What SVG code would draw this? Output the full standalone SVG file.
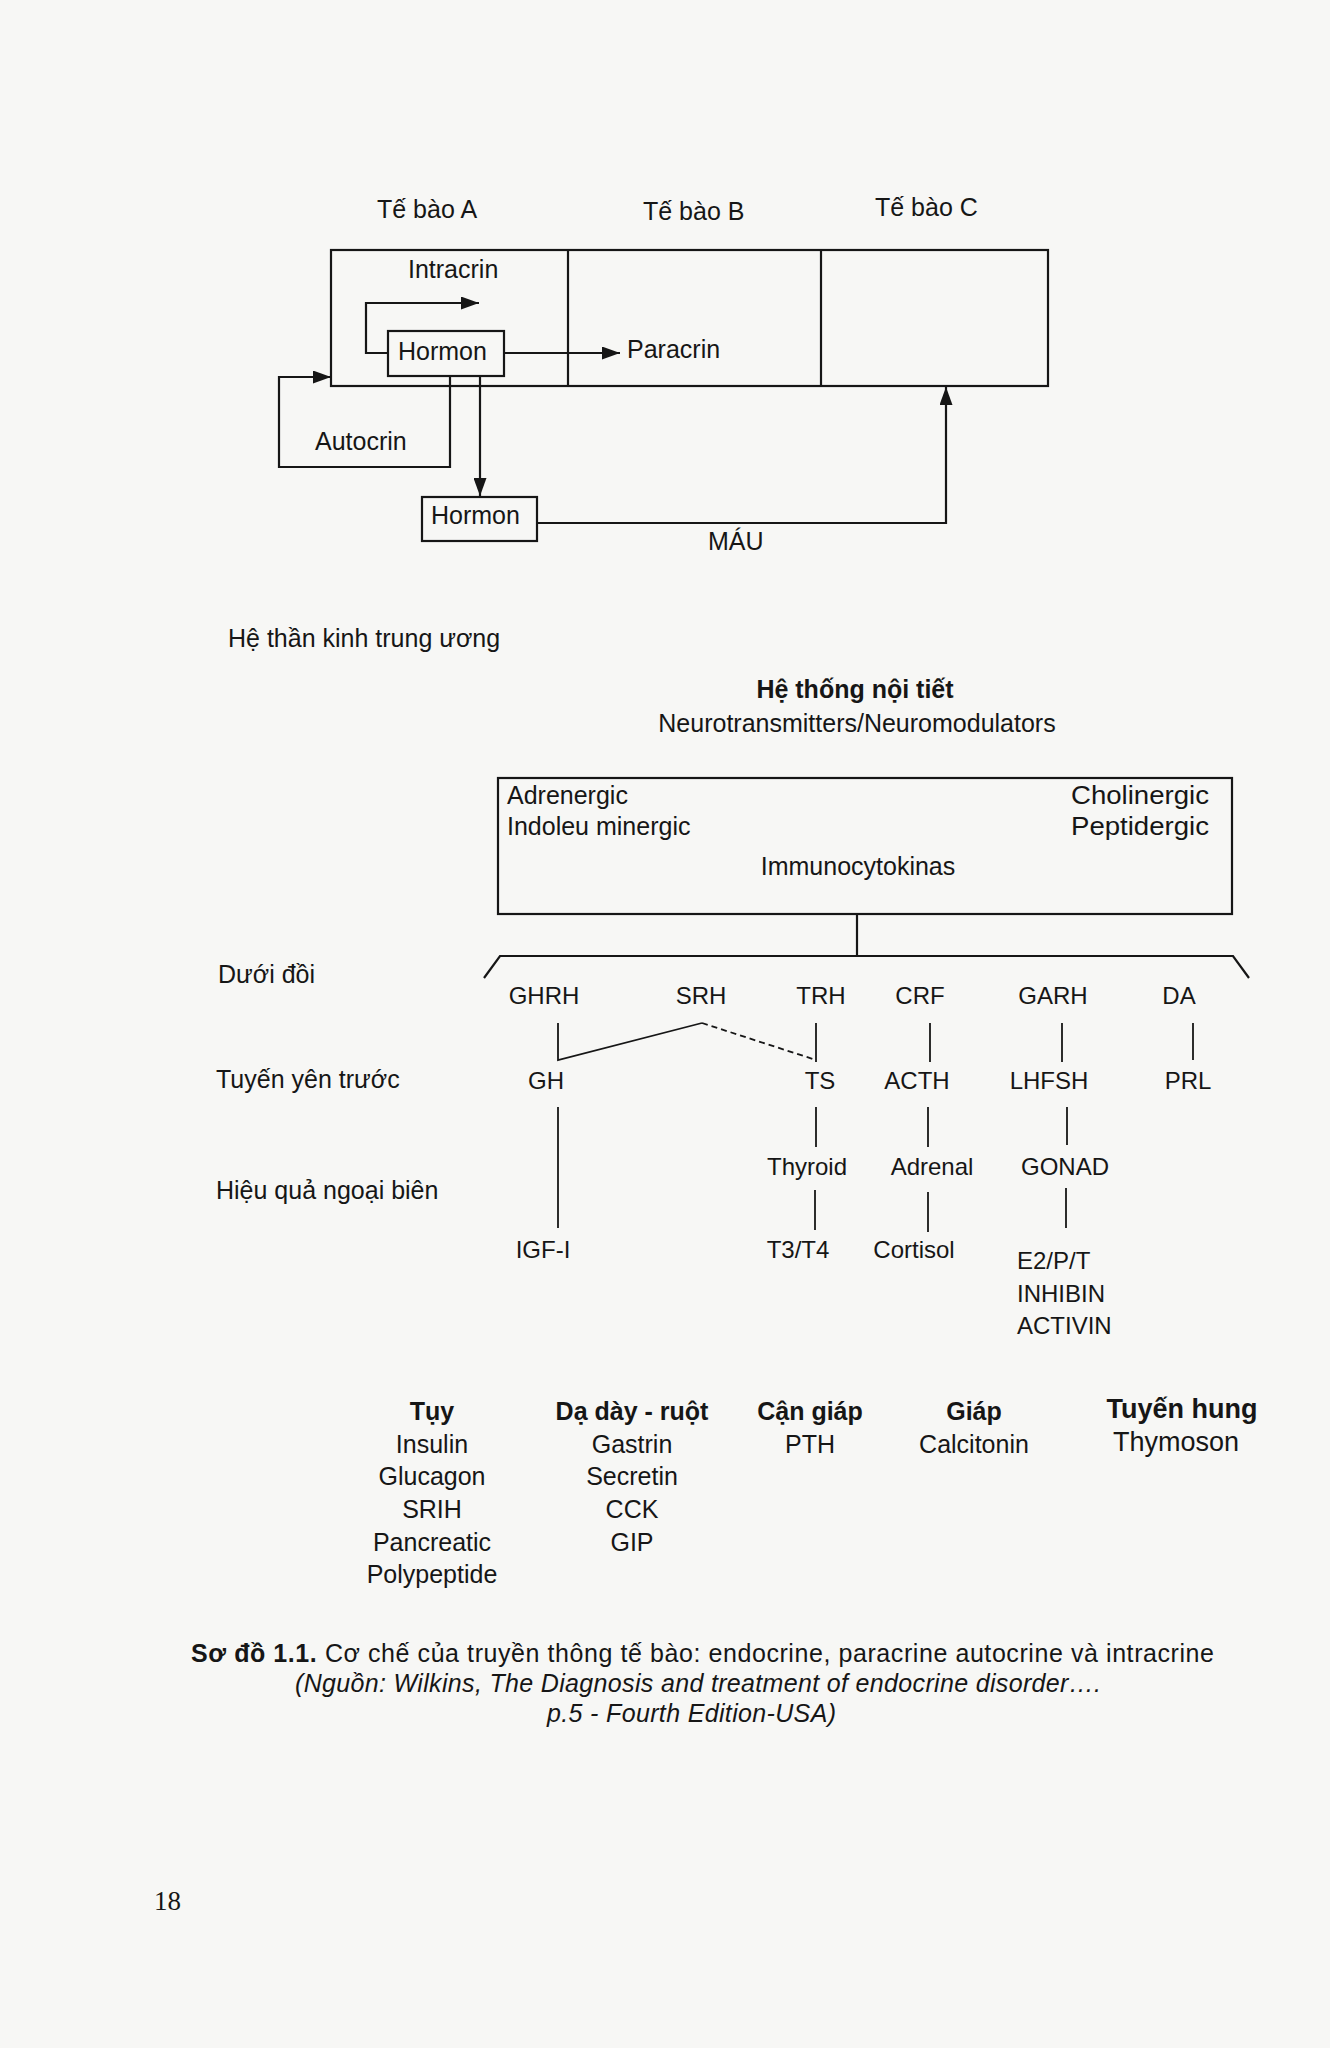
<svg xmlns="http://www.w3.org/2000/svg" width="1330" height="2048" viewBox="0 0 1330 2048">
<style>
text{font-family:"Liberation Sans",Arial,sans-serif;font-size:25px;fill:#161616}
.b{font-weight:bold}
.m{text-anchor:middle}
.s24{font-size:24px}
.ln{fill:none;stroke:#161616;stroke-width:2.2}
.th{fill:none;stroke:#161616;stroke-width:1.8}
.dash{stroke-dasharray:6 4}
</style>
<defs>
<marker id="ah" viewBox="0 0 18 13" refX="18" refY="6.5" markerWidth="18" markerHeight="13" orient="auto" markerUnits="userSpaceOnUse">
<path d="M0,0 L18,6.5 L0,13 z" fill="#161616"/>
</marker>
</defs>
<rect width="1330" height="2048" fill="#f7f7f5"/>

<g id="cells">
<text x="377" y="218">Tế bào A</text>
<text x="643" y="220">Tế bào B</text>
<text x="875" y="216">Tế bào C</text>
<rect class="ln" x="331" y="250" width="717" height="136"/>
<line class="ln" x1="568" y1="250" x2="568" y2="386"/>
<line class="ln" x1="821" y1="250" x2="821" y2="386"/>
<text x="408" y="278">Intracrin</text>
<text x="627" y="358">Paracrin</text>
</g>
<g id="hormon1">
<rect class="ln" x="388" y="331" width="116" height="45"/>
<text x="398" y="360">Hormon</text>
</g>
<g id="autocrin">
<text x="315" y="450">Autocrin</text>
</g>
<g id="hormon2">
<rect class="ln" x="422" y="497" width="115" height="44"/>
<text x="431" y="524">Hormon</text>
</g>
<g id="mau"><text x="708" y="550">MÁU</text></g>

<g id="top-connectors">
<polyline class="ln" points="388,353 366,353 366,303 479,303" marker-end="url(#ah)"/>
<line class="ln" x1="504" y1="353" x2="620" y2="353" marker-end="url(#ah)"/>
<polyline class="ln" points="450,376 450,467 279,467 279,377 331,377" marker-end="url(#ah)"/>
<line class="ln" x1="480" y1="376" x2="480" y2="496" marker-end="url(#ah)"/>
<polyline class="ln" points="537,523 946,523 946,387" marker-end="url(#ah)"/>
</g>

<g id="cns"><text x="228" y="647">Hệ thần kinh trung ương</text></g>
<g id="endocrine-title">
<text class="b m" x="855" y="698">Hệ thống nội tiết</text>
<text class="m" x="857" y="732">Neurotransmitters/Neuromodulators</text>
</g>
<g id="neuro-box">
<rect class="ln" x="498" y="778" width="734" height="136"/>
<text x="507" y="804">Adrenergic</text>
<text x="507" y="835">Indoleu minergic</text>
<text x="1071" y="804" textLength="138" lengthAdjust="spacingAndGlyphs">Cholinergic</text>
<text x="1071" y="835" textLength="138" lengthAdjust="spacingAndGlyphs">Peptidergic</text>
<text class="m" x="858" y="875">Immunocytokinas</text>
</g>

<g id="row-labels">
<text x="218" y="983">Dưới đồi</text>
<text x="216" y="1088">Tuyến yên trước</text>
<text x="216" y="1199">Hiệu quả ngoại biên</text>
</g>
<g id="hypothalamus">
<text class="m s24" x="544" y="1004">GHRH</text>
<text class="m s24" x="701" y="1004">SRH</text>
<text class="m s24" x="821" y="1004">TRH</text>
<text class="m s24" x="920" y="1004">CRF</text>
<text class="m s24" x="1053" y="1004">GARH</text>
<text class="m s24" x="1179" y="1004">DA</text>
</g>
<g id="pituitary">
<text class="m s24" x="546" y="1089">GH</text>
<text class="m s24" x="820" y="1089">TS</text>
<text class="m s24" x="917" y="1089">ACTH</text>
<text class="m s24" x="1049" y="1089">LHFSH</text>
<text class="m s24" x="1188" y="1089">PRL</text>
</g>
<g id="glands">
<text class="m s24" x="807" y="1175">Thyroid</text>
<text class="m s24" x="932" y="1175">Adrenal</text>
<text class="m s24" x="1065" y="1175">GONAD</text>
</g>
<g id="effects">
<text class="m s24" x="543" y="1258">IGF-I</text>
<text class="m s24" x="798" y="1258">T3/T4</text>
<text class="m s24" x="914" y="1258">Cortisol</text>
<text class="s24" x="1017" y="1269">E2/P/T</text>
<text class="s24" x="1017" y="1302">INHIBIN</text>
<text class="s24" x="1017" y="1334">ACTIVIN</text>
</g>

<g id="hierarchy-connectors">
<line class="ln" x1="857" y1="914" x2="857" y2="956"/>
<polyline class="ln" points="484,978 500,956 1233,956 1249,978"/>
<polyline class="th" points="558,1023 558,1060 702,1023"/>
<line class="th dash" x1="702" y1="1023" x2="816" y2="1060"/>
<line class="th" x1="816" y1="1023" x2="816" y2="1062"/>
<line class="th" x1="930" y1="1023" x2="930" y2="1062"/>
<line class="th" x1="1062" y1="1023" x2="1062" y2="1062"/>
<line class="th" x1="1193" y1="1023" x2="1193" y2="1060"/>
<line class="th" x1="558" y1="1107" x2="558" y2="1228"/>
<line class="th" x1="816" y1="1107" x2="816" y2="1147"/>
<line class="th" x1="928" y1="1107" x2="928" y2="1147"/>
<line class="th" x1="1067" y1="1107" x2="1067" y2="1145"/>
<line class="th" x1="815" y1="1190" x2="815" y2="1230"/>
<line class="th" x1="928" y1="1192" x2="928" y2="1232"/>
<line class="th" x1="1066" y1="1188" x2="1066" y2="1228"/>
</g>

<g id="organs">
<text class="b m" x="432" y="1420">Tụy</text>
<text class="m" x="432" y="1453">Insulin</text>
<text class="m" x="432" y="1485">Glucagon</text>
<text class="m" x="432" y="1518">SRIH</text>
<text class="m" x="432" y="1551">Pancreatic</text>
<text class="m" x="432" y="1583">Polypeptide</text>
<text class="b m" x="632" y="1420">Dạ dày - ruột</text>
<text class="m" x="632" y="1453">Gastrin</text>
<text class="m" x="632" y="1485">Secretin</text>
<text class="m" x="632" y="1518">CCK</text>
<text class="m" x="632" y="1551">GIP</text>
<text class="b m" x="810" y="1420">Cận giáp</text>
<text class="m" x="810" y="1453">PTH</text>
<text class="b m" x="974" y="1420">Giáp</text>
<text class="m" x="974" y="1453">Calcitonin</text>
<text class="b m" x="1182" y="1418" style="font-size:27px">Tuyến hung</text>
<text class="m" x="1176" y="1451" style="font-size:27px">Thymoson</text>
</g>

<g id="caption">
<text x="191" y="1662" textLength="1023" lengthAdjust="spacing"><tspan class="b">Sơ đồ 1.1.</tspan> Cơ chế của truyền thông tế bào: endocrine, paracrine autocrine và intracrine</text>
<text x="295" y="1692" font-style="italic" textLength="806" lengthAdjust="spacing">(Nguồn: Wilkins, The Diagnosis and treatment of endocrine disorder….</text>
<text x="547" y="1722" font-style="italic" textLength="289" lengthAdjust="spacing">p.5 - Fourth Edition-USA)</text>
</g>
<g id="page-number">
<text x="154" y="1910" style="font-family:'Liberation Serif','Times New Roman',serif;font-size:27px">18</text>
</g>
</svg>
